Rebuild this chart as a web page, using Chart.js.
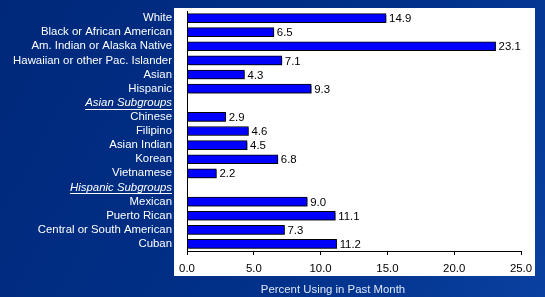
<!DOCTYPE html>
<html lang="en">
<head>
<meta charset="UTF-8">
<title>Percent Using in Past Month</title>
<script src="https://cdn.jsdelivr.net/npm/chart.js"></script>
<style>
  html, body { margin: 0; padding: 0; background: #002a7c; overflow: hidden; }
</style>
</head>
<body>
<canvas id="chart" width="545" height="297"></canvas>
<script>
// data
const categories = [
  'White', 'Black or African American', 'Am. Indian or Alaska Native',
  'Hawaiian or other Pac. Islander', 'Asian', 'Hispanic',
  'Asian Subgroups',
  'Chinese', 'Filipino', 'Asian Indian', 'Korean', 'Vietnamese',
  'Hispanic Subgroups',
  'Mexican', 'Puerto Rican', 'Central or South American', 'Cuban'
];
const headers = ['Asian Subgroups', 'Hispanic Subgroups'];
const percentUsing = [14.9, 6.5, 23.1, 7.1, 4.3, 9.3, null, 2.9, 4.6, 4.5, 6.8, 2.2, null, 9.0, 11.1, 7.3, 11.2];
const xTicks = [0, 5, 10, 15, 20, 25];
const xTitle = 'Percent Using in Past Month';

const FONT = 'Liberation Sans, Arial, sans-serif';
const FSIZE = 11.4;

// blue slide background + white plot panel
const backdrop = {
  id: 'backdrop',
  beforeDraw(chart) {
    const c = chart.ctx;
    const g = c.createLinearGradient(0, 0, chart.width, chart.height);
    g.addColorStop(0, '#00287a');
    g.addColorStop(0.6, '#01318a');
    g.addColorStop(1, '#0a40a0');
    c.save();
    c.fillStyle = g;
    c.fillRect(0, 0, chart.width, chart.height);
    c.fillStyle = '#ffffff';
    c.fillRect(174, 8, 361, 268);
    c.restore();
  }
};

// bar shadows
const shadows = {
  id: 'shadows',
  beforeDatasetsDraw(chart) {
    const c = chart.ctx;
    c.save();
    c.shadowColor = 'rgba(0,0,0,0.35)';
    c.shadowOffsetX = 1.5;
    c.shadowOffsetY = 1.5;
    c.shadowBlur = 0;
  },
  afterDatasetsDraw(chart) {
    chart.ctx.restore();
  }
};

// value labels, header underlines, x title
const extras = {
  id: 'extras',
  afterDraw(chart) {
    const c = chart.ctx;
    const meta = chart.getDatasetMeta(0);
    c.save();
    c.font = FSIZE + 'px ' + FONT;
    c.fillStyle = '#000';
    c.textBaseline = 'middle';
    c.textAlign = 'left';
    meta.data.forEach((bar, i) => {
      const v = percentUsing[i];
      if (v === null) return;
      c.fillText(v.toFixed(1), bar.x + 3, bar.y + 1);
    });

    // title sits under the slide panel, a bit left of the plot centre
    c.fillStyle = '#dfe6f5';
    c.textAlign = 'center';
    c.fillText(xTitle, 333, 290);

    const y = chart.scales.y;
    c.strokeStyle = '#ffffff';
    c.lineWidth = 1;
    c.font = 'italic ' + FSIZE + 'px ' + FONT;
    headers.forEach(h => {
      const idx = categories.indexOf(h);
      const py = Math.round(y.getPixelForValue(idx)) + 6.5;
      const w = c.measureText(h).width;
      const right = y.right - 15;
      c.beginPath();
      c.moveTo(right - w, py);
      c.lineTo(right, py);
      c.stroke();
    });
    c.restore();
  }
};

new Chart(document.getElementById('chart'), {
  type: 'bar',
  data: {
    labels: categories,
    datasets: [{
      data: percentUsing,
      backgroundColor: '#0000ff',
      borderColor: '#000000',
      borderWidth: 1,
      borderSkipped: false,
      barThickness: 9
    }]
  },
  options: {
    indexAxis: 'y',
    responsive: false,
    animation: false,
    maintainAspectRatio: false,
    layout: { padding: { left: 0, right: 24, top: 11, bottom: 0 } },
    plugins: {
      legend: { display: false },
      tooltip: { enabled: false }
    },
    scales: {
      x: {
        min: 0,
        max: 25,
        afterBuildTicks(axis) { axis.ticks = xTicks.map(v => ({ value: v })); },
        afterFit(axis) { axis.height = 46; },
        border: { color: '#000', width: 1 },
        grid: { drawOnChartArea: false, drawTicks: true, tickLength: 4, color: '#000' },
        ticks: {
          color: '#000',
          maxRotation: 0,
          font: { family: FONT, size: FSIZE },
          padding: 7,
          callback: v => Number(v).toFixed(1)
        }
      },
      y: {
        afterFit(axis) {
          axis.width = 187;
          axis.paddingTop = 0;
          axis.paddingBottom = 0;
        },
        border: { color: '#000', width: 1 },
        grid: { display: false, drawTicks: false },
        ticks: {
          color: '#ffffff',
          padding: 15,
          autoSkip: false,
          font: ctx => ({
            family: FONT,
            size: FSIZE,
            style: headers.includes(categories[ctx.index]) ? 'italic' : 'normal'
          })
        }
      }
    }
  },
  plugins: [backdrop, shadows, extras]
});
</script>
</body>
</html>
